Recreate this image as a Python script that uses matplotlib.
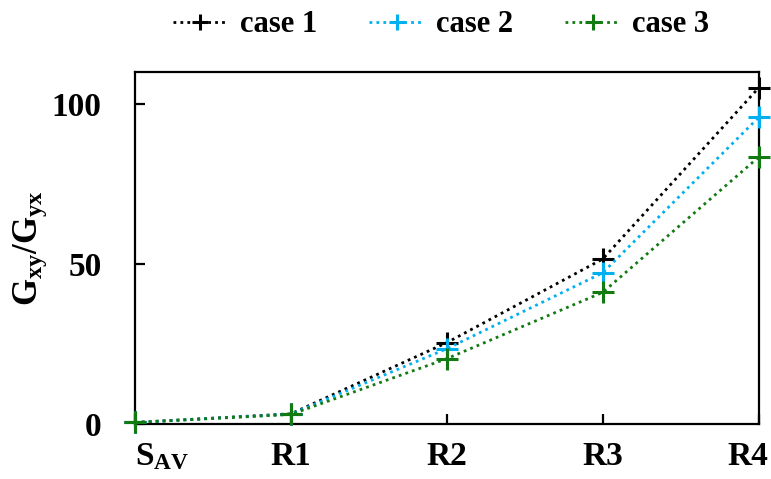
import numpy as np
import matplotlib
matplotlib.use("Agg")
import matplotlib.pyplot as plt
import matplotlib.transforms as mtransforms

plt.rcParams['font.family'] = 'Liberation Serif'
plt.rcParams['mathtext.fontset'] = 'custom'
plt.rcParams['mathtext.rm'] = 'Liberation Serif:bold'
plt.rcParams['mathtext.bf'] = 'Liberation Serif:bold'
plt.rcParams['mathtext.it'] = 'Liberation Serif:bold'
plt.rcParams['mathtext.default'] = 'bf'

# data
categories = [r'S$_{AV}$', 'R1', 'R2', 'R3', 'R4']
case1 = [0.6, 3.3, 25.5, 51.6, 105.0]
case2 = [0.6, 3.2, 23.6, 47.3, 95.8]
case3 = [0.6, 3.1, 20.5, 41.2, 83.4]
series_names = ['case 1', 'case 2', 'case 3']
colors = ['black', '#00B0F0', '#117A11']

fig = plt.figure(figsize=(7.71, 4.79), dpi=100)
ax = fig.add_axes([0.175, 0.114, 0.809, 0.736])

x = np.arange(len(categories))
for vals, name, c in zip([case1, case2, case3], series_names, colors):
    ax.plot(x, vals, linestyle=(0, (1, 1.5)), linewidth=2.0, color=c,
            marker='+', markersize=16, markeredgewidth=2.2,
            label=name, clip_on=False, zorder=3)

ax.set_xlim(0, 4)
ax.set_ylim(0, 110)
ax.set_xticks(x)
ax.set_xticklabels(categories)
ax.set_yticks([0, 50, 100])
ax.tick_params(direction='in', length=7, width=1.6)
ax.tick_params(axis='y', labelsize=24, pad=24)
ax.tick_params(axis='x', labelsize=24, pad=12)
for lab in ax.get_xticklabels() + ax.get_yticklabels():
    lab.set_fontweight('bold')
for s in ax.spines.values():
    s.set_linewidth(1.6)

# edge category labels are pulled inside like the original
xl = ax.get_xticklabels()
xl[0].set_horizontalalignment('left')
xl[-1].set_horizontalalignment('right')
xl[-1].set_transform(xl[-1].get_transform() +
                     mtransforms.ScaledTranslation(0.1, 0, fig.dpi_scale_trans))

ax.set_ylabel(r'G$_{xy}$/G$_{yx}$', fontsize=25, fontweight='bold', labelpad=2)

fig.legend(loc='center', bbox_to_anchor=(0.572, 0.948), ncol=3, frameon=False,
           handlelength=1.8, handletextpad=0.4, columnspacing=1.7,
           markerscale=0.75, borderaxespad=0,
           prop={'family': 'Liberation Serif', 'size': 22, 'weight': 'semibold'})

plt.savefig('out.png', dpi=100)
plt.close(fig)
